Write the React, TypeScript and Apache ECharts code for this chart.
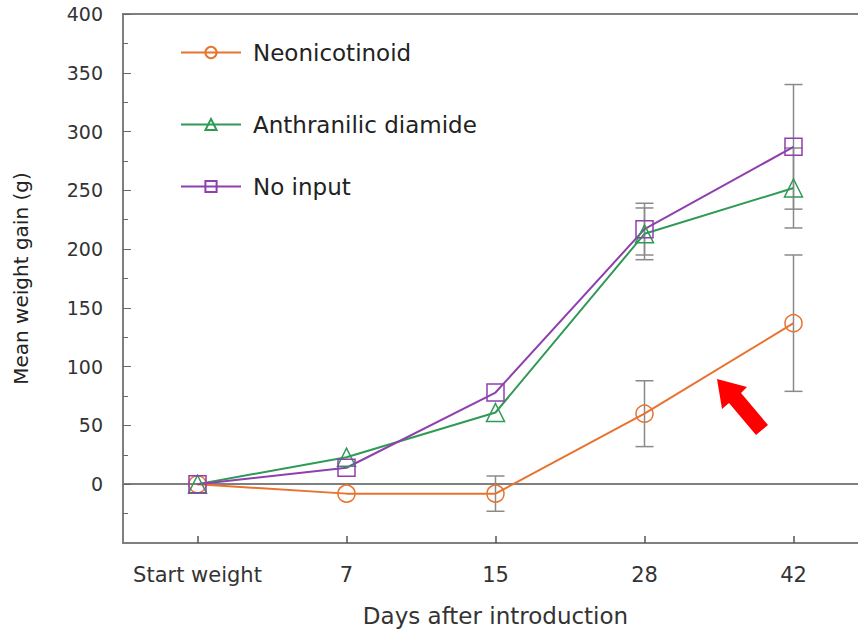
import React, { useEffect, useRef } from "react";
import * as echarts from "echarts";

const categories = ["Start weight", "7", "15", "28", "42"];
const neoMean = [0, -8, -8, 60, 137];
const neoErr = [0, 0, 15, 28, 58];
const diaMean = [0, 23, 61, 213, 252];
const diaErr = [0, 0, 0, 22, 34];
const noMean = [0, 14, 78, 217, 287];
const noErr = [0, 0, 0, 22, 53];
const yTicks = { min: -50, max: 400, interval: 50 };

const ORANGE = "#e8732f";
const GREEN = "#2f9a55";
const PURPLE = "#8f3fae";
const FONT = "DejaVu Sans";

function errData(mean: number[], err: number[]) {
  return mean
    .map((m, i) => [i, m - err[i], m + err[i]])
    .filter((d, i) => err[i] > 0);
}

export default function App() {
  const ref = useRef<HTMLDivElement>(null);
  useEffect(() => {
    if (!ref.current) return;
    const chart = echarts.init(ref.current, null, { renderer: "svg" });

    const errSeries = (mean: number[], err: number[], name: string) => ({
      type: "custom",
      name: name + " err",
      silent: true,
      z: 1,
      renderItem: (params: any, api: any) => {
        const x = api.value(0);
        const lo = api.coord([x, api.value(1)]);
        const hi = api.coord([x, api.value(2)]);
        const w = 9;
        const style = { stroke: "#8a8a8a", lineWidth: 1.5 };
        return {
          type: "group",
          children: [
            { type: "line", shape: { x1: hi[0], y1: hi[1], x2: lo[0], y2: lo[1] }, style },
            { type: "line", shape: { x1: hi[0] - w, y1: hi[1], x2: hi[0] + w, y2: hi[1] }, style },
            { type: "line", shape: { x1: lo[0] - w, y1: lo[1], x2: lo[0] + w, y2: lo[1] }, style },
          ],
        };
      },
      data: errData(mean, err),
    });

    const lineSeries = (name: string, data: number[], color: string, symbol: string) => ({
      type: "line",
      name,
      data,
      symbol,
      symbolSize: symbol === "triangle" ? 18 : 17,
      z: 3,
      lineStyle: { color, width: 2 },
      itemStyle: { color: "rgba(255,255,255,0)", borderColor: color, borderWidth: 1.5 },
    });

    const legendBase = {
      orient: "vertical",
      left: 180,
      padding: 0,
      itemWidth: 60,
      itemHeight: 14,
      textStyle: { fontFamily: FONT, fontSize: 23, color: "#222", padding: [0, 0, 0, 7] },
    };

    chart.setOption({
      animation: false,
      grid: {
        left: 123,
        top: 14,
        width: 745,
        height: 529,
        show: true,
        borderColor: "#7f7f7f",
        borderWidth: 2,
        backgroundColor: "transparent",
      },
      legend: [
        { ...legendBase, top: 41, data: ["Neonicotinoid"] },
        { ...legendBase, top: 113, data: ["Anthranilic diamide"] },
        { ...legendBase, top: 175, data: ["No input"] },
      ],
      xAxis: {
        type: "category",
        data: categories,
        boundaryGap: true,
        z: 5,
        axisLine: { onZero: false, lineStyle: { color: "#7f7f7f", width: 2 } },
        axisTick: {
          show: true,
          inside: true,
          alignWithLabel: true,
          interval: 0,
          length: 7,
          lineStyle: { color: "#555", width: 1.5 },
        },
        axisLabel: { fontFamily: FONT, fontSize: 21, color: "#333", margin: 21, interval: 0 },
        name: "Days after introduction",
        nameLocation: "middle",
        nameGap: 61,
        nameTextStyle: { fontFamily: FONT, fontSize: 23, color: "#333" },
      },
      yAxis: {
        type: "value",
        min: yTicks.min,
        max: yTicks.max,
        interval: yTicks.interval,
        splitLine: { show: false },
        axisLine: { show: true, lineStyle: { color: "#7f7f7f", width: 2 } },
        axisTick: { show: true, inside: true, length: 8, lineStyle: { color: "#666" } },
        minorTick: { show: true, splitNumber: 2, length: 5, lineStyle: { color: "#666" } },
        axisLabel: {
          fontFamily: FONT,
          fontSize: 19,
          color: "#333",
          margin: 20,
          formatter: (v: number) => (v < 0 ? "" : String(v)),
        },
        name: "Mean weight gain (g)",
        nameLocation: "middle",
        nameGap: 92,
        nameTextStyle: { fontFamily: FONT, fontSize: 20, color: "#222" },
      },
      graphic: [
        {
          type: "polygon",
          z: 100,
          shape: {
            points: [
              [717, 379],
              [747, 387],
              [741, 393],
              [768, 425],
              [756, 435],
              [729, 403],
              [722, 409],
            ],
          },
          style: { fill: "#ff0000" },
        },
      ],
      series: [
        errSeries(neoMean, neoErr, "Neonicotinoid"),
        errSeries(diaMean, diaErr, "Anthranilic diamide"),
        errSeries(noMean, noErr, "No input"),
        {
          ...lineSeries("Neonicotinoid", neoMean, ORANGE, "circle"),
          markLine: {
            silent: true,
            symbol: "none",
            label: { show: false },
            lineStyle: { color: "#7f7f7f", width: 2, type: "solid" },
            data: [{ yAxis: 0 }],
            z: 0,
          },
        },
        lineSeries("Anthranilic diamide", diaMean, GREEN, "triangle"),
        lineSeries("No input", noMean, PURPLE, "rect"),
      ],
    });
    return () => chart.dispose();
  }, []);
  return (
    <div style={{ position: "fixed", left: 0, top: 0, width: 858, height: 634, overflow: "hidden", background: "#fff" }}>
      <div ref={ref} style={{ width: 900, height: 634 }} />
    </div>
  );
}
